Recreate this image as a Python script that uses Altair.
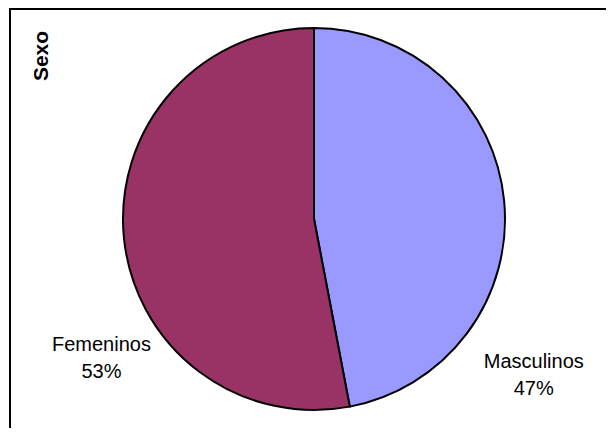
import altair as alt
import pandas as pd

sexo = ["Masculinos", "Femeninos"]
porcentaje = [47, 53]
colores = ["#9999FF", "#993366"]

df = pd.DataFrame({"sexo": sexo, "pct": porcentaje})

W, H = 598, 420
CX, CY = 306, 211

base = alt.Chart(df).transform_window(
    idx="row_number()"
).transform_calculate(
    label="datum.sexo + '\\n' + datum.pct + '%'"
).encode(
    theta=alt.Theta("pct:Q", stack=True),
    order=alt.Order("idx:Q"),
    x=alt.value(CX),
    y=alt.value(CY),
)

pie = base.mark_arc(outerRadius=191, stroke="black", strokeWidth=2).encode(
    color=alt.Color("sexo:N", scale=alt.Scale(domain=sexo, range=colores), legend=None)
)

txt_style = dict(font="Liberation Sans", fontSize=20, color="black",
                 lineBreak="\n", lineHeight=27, align="center", baseline="middle")

lab_f = base.mark_text(radius=247, thetaOffset=-0.440, **txt_style).encode(
    text=alt.condition("datum.sexo == 'Femeninos'", "label:N", alt.value(""))
)
lab_m = base.mark_text(radius=262, thetaOffset=0.670, **txt_style).encode(
    text=alt.condition("datum.sexo == 'Masculinos'", "label:N", alt.value(""))
)

titulo = alt.Chart(pd.DataFrame({"t": ["Sexo"]})).mark_text(
    angle=270, font="Liberation Sans", fontSize=21, fontWeight="bold",
    color="black", align="center", baseline="middle"
).encode(text="t:N", x=alt.value(34), y=alt.value(48))

borde_izq = alt.Chart(pd.DataFrame({"t": [0]})).mark_rule(
    color="black", strokeWidth=2
).encode(x=alt.value(2), y=alt.value(0), y2=alt.value(H))
borde_sup = alt.Chart(pd.DataFrame({"t": [0]})).mark_rule(
    color="black", strokeWidth=2
).encode(x=alt.value(1), x2=alt.value(W), y=alt.value(1))

chart = alt.layer(pie, lab_f, lab_m, titulo, borde_izq, borde_sup).properties(
    width=W, height=H, padding=0, autosize=alt.AutoSizeParams(type="none"),
    background="white"
).configure_view(stroke=None)

chart.save("out.html", embed_options={"renderer": "svg", "actions": False})
